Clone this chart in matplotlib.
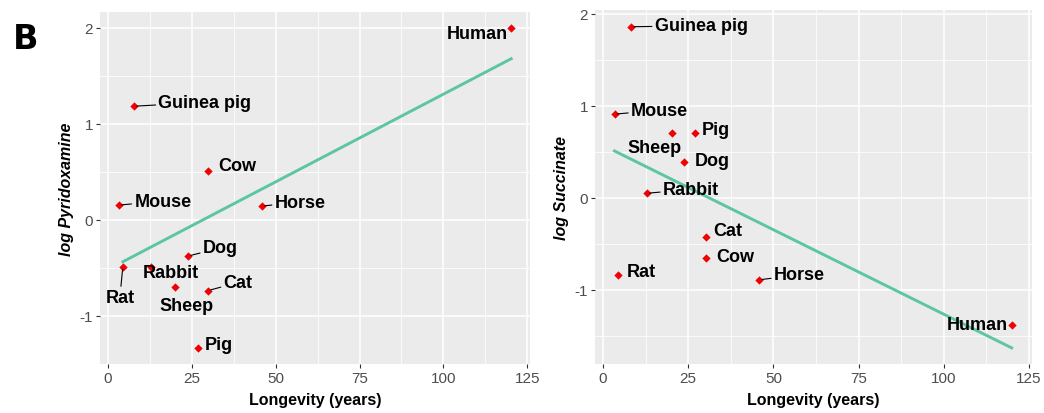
import matplotlib.pyplot as plt
from matplotlib.ticker import MultipleLocator

plt.rcParams.update({
    "font.family": ["Liberation Sans", "DejaVu Sans"],
    "font.size": 11,
})

# longevity (years) per species
species = ["Mouse", "Rat", "Guinea pig", "Rabbit", "Sheep", "Dog",
           "Pig", "Cow", "Cat", "Horse", "Human"]
longevity_pyr = [3.3, 4.5, 7.8, 13.0, 19.9, 24.0, 26.8, 29.9, 29.9, 46.0, 120.2]
longevity_suc = [3.4, 4.4, 8.3, 12.9, 20.3, 23.9, 27.1, 30.2, 30.2, 45.9, 119.9]

log_pyridoxamine = [0.15, -0.49, 1.18, -0.49, -0.70, -0.38, -1.34, 0.51, -0.74, 0.14, 1.99]
log_succinate = [0.91, -0.84, 1.86, 0.05, 0.71, 0.39, 0.70, -0.65, -0.43, -0.89, -1.385]

# linear fit end points
fit_pyr_x = [4.5, 120.2]
fit_pyr_y = [-0.44, 1.675]
fit_suc_x = [3.4, 119.9]
fit_suc_y = [0.51, -1.63]

# label offsets in pixels (dx, dy) and whether a leader segment is drawn
offs_pyr = {
    "Mouse": (44, -4, True), "Rat": (-3, 31, True), "Guinea pig": (71, -4, True),
    "Rabbit": (19, 6, False), "Sheep": (12, 19, False), "Dog": (32, -8, True),
    "Pig": (21, -4, False), "Cow": (29, -5, False), "Cat": (30, -8, True),
    "Horse": (38, -4, True), "Human": (-34, 5, False),
}
offs_suc = {
    "Mouse": (45, -4, True), "Rat": (23, -4, False), "Guinea pig": (70, -1, True),
    "Rabbit": (44, -4, True), "Sheep": (-18, 15, False), "Dog": (28, -2, False),
    "Pig": (21, -4, False), "Cow": (29, -1, False), "Cat": (22, -7, False),
    "Horse": (40, -5, True), "Human": (-34, -1, False),
}

POINT_RED = "#F00000"
FIT_GREEN = "#5CC6A0"
PANEL_BG = "#EBEBEB"


def gg_axes(ax):
    ax.set_facecolor(PANEL_BG)
    for s in ax.spines.values():
        s.set_visible(False)
    ax.xaxis.set_major_locator(MultipleLocator(25))
    ax.xaxis.set_minor_locator(MultipleLocator(12.5))
    ax.yaxis.set_major_locator(MultipleLocator(1))
    ax.yaxis.set_minor_locator(MultipleLocator(0.5))
    ax.grid(which="major", color="white", linewidth=1.1)
    ax.grid(which="minor", color="white", linewidth=0.55)
    ax.set_axisbelow(True)
    ax.tick_params(which="major", length=3, width=0.8, color="#333333",
                   labelcolor="#4D4D4D", labelsize=11, pad=2)
    ax.tick_params(which="minor", length=0)
    ax.xaxis.set_major_formatter(lambda v, p: f"{v:g}")
    ax.yaxis.set_major_formatter(lambda v, p: f"{v:g}")


def draw_panel(ax, x, y, fx, fy, offs, ylabel, ylim):
    gg_axes(ax)
    ax.plot(fx, fy, color=FIT_GREEN, linewidth=2.1, zorder=2)
    ax.scatter(x, y, marker="D", s=18, color=POINT_RED, zorder=4, linewidths=0)
    for name, xi, yi in zip(species, x, y):
        dx, dy, leader = offs[name]
        props = None
        if leader:
            props = dict(arrowstyle="-", color="black", lw=0.8,
                         shrinkA=0, shrinkB=2)
        ax.annotate(name, (xi, yi), xytext=(dx, -dy),
                    textcoords="offset pixels", ha="center", va="center",
                    fontsize=13, fontweight="bold", color="black",
                    arrowprops=props, zorder=5)
    ax.set_xlim(-2.3, 125.8)
    ax.set_ylim(*ylim)
    ax.set_xlabel("Longevity (years)", fontweight="bold", fontsize=11.5,
                  labelpad=5)
    ax.set_ylabel(ylabel, fontweight="bold", fontstyle="italic",
                  fontsize=11.5, labelpad=4)


fig = plt.figure(figsize=(10.44, 4.14), dpi=100)
ax1 = fig.add_axes([0.0958, 0.1184, 0.4119, 0.851])
ax2 = fig.add_axes([0.5700, 0.1184, 0.4183, 0.8557])

draw_panel(ax1, longevity_pyr, log_pyridoxamine, fit_pyr_x, fit_pyr_y,
           offs_pyr, "log Pyridoxamine", (-1.505, 2.165))
draw_panel(ax2, longevity_suc, log_succinate, fit_suc_x, fit_suc_y,
           offs_suc, "log Succinate", (-1.805, 2.045))

fig.text(0.012, 0.905, "B", fontsize=24, fontweight="bold", ha="left",
         va="center", family=["DejaVu Sans"])

fig.savefig("out.png", dpi=100)
